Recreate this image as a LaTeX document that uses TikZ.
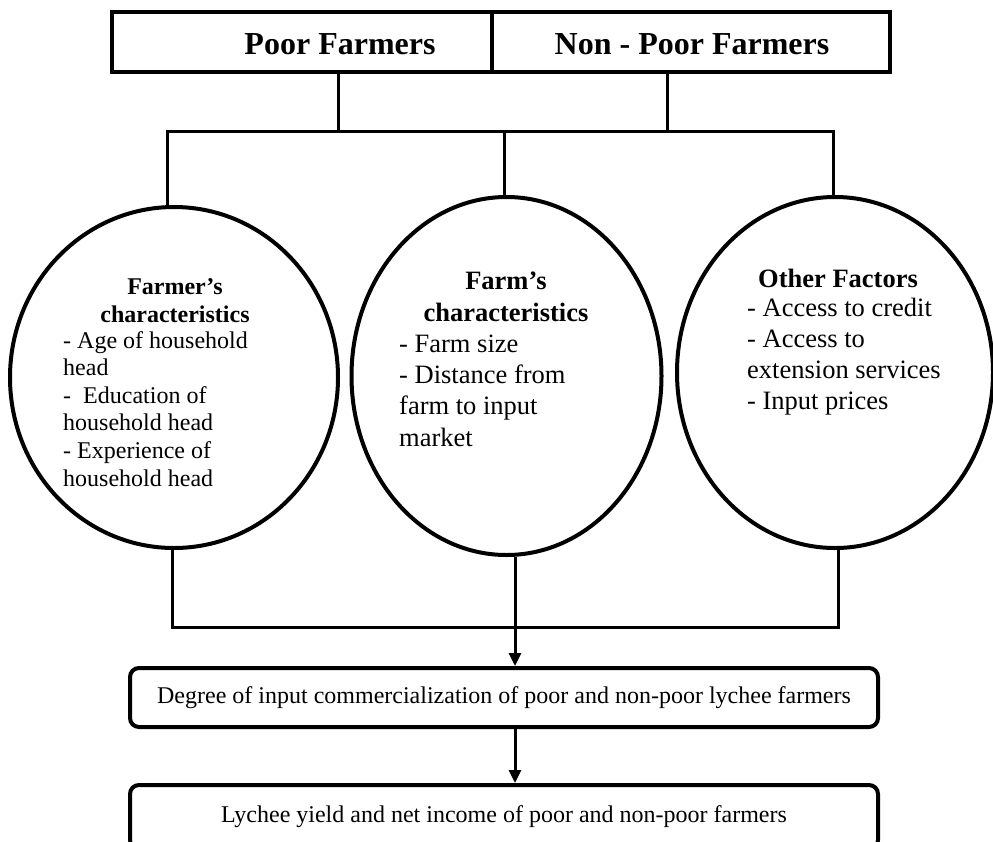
\documentclass[tikz,border=0pt]{standalone}
\usepackage{fontspec}
\setmainfont{Liberation Serif}
\usetikzlibrary{arrows.meta,shapes.geometric}
\begin{document}
\begin{tikzpicture}[x=1pt,y=-1pt,
  frame/.style={draw,line width=4pt,inner sep=0pt,outer sep=0pt},
  oval/.style={draw,ellipse,line width=4pt,inner sep=0pt},
  outbox/.style={draw,line width=4pt,rounded corners=9pt,inner sep=0pt,minimum width=748pt},
  conn/.style={line width=3pt},
  arr/.style={line width=3pt,-{Triangle[length=13pt,width=12pt]}},
  big/.style={font=\fontsize{32}{36}\selectfont\bfseries,inner sep=0pt},
  txta/.style={font=\fontsize{24}{27.6}\selectfont,inner sep=0pt},
  txtb/.style={font=\fontsize{26.5}{31.3}\selectfont,inner sep=0pt},
  txtc/.style={font=\fontsize{26.5}{30.7}\selectfont,inner sep=0pt},
]
\useasboundingbox (0,0) rectangle (993,841);
\clip (0,0) rectangle (993,841);

% top boxes
\node[frame,minimum width=380pt,minimum height=60pt] (pfbox) at (302,42) {};
\node[frame,minimum width=398pt,minimum height=60pt] (npfbox) at (691,42) {};
\node[big,anchor=base] (pft) at (340,54) {Poor Farmers};
\node[big,anchor=base] (npft) at (692,54) {Non - Poor Farmers};

% ellipses
\node[oval,minimum width=328pt,minimum height=341pt] (left) at (174,377.5) {};
\node[oval,minimum width=310pt,minimum height=358pt] (mid) at (506.5,376) {};
\node[oval,minimum width=316pt,minimum height=351pt] (right) at (835,372.5) {};

% ellipse texts (base anchor = baseline of the last line)
\node[txta,anchor=base,align=center,font=\fontsize{24}{27.6}\selectfont\bfseries] (lh) at (175,322) {Farmer’s\\characteristics};
\node[txta,anchor=base west,align=left] (ll) at (63,486) {- Age of household\\head\\-\ \ Education of\\household head\\- Experience of\\household head};

\node[txtb,anchor=base,align=center,font=\fontsize{26.5}{31.3}\selectfont\bfseries] (mh) at (506,321) {Farm’s\\characteristics};
\node[txtb,anchor=base west,align=left] (ml) at (399,446) {- Farm size\\- Distance from\\farm to input\\market};

\node[txtc,anchor=base,font=\fontsize{26.5}{30.7}\selectfont\bfseries] (rh) at (838,287) {Other Factors};
\node[txtc,anchor=base west,align=left] (rl) at (747,409) {- Access to credit\\- Access to\\extension services\\- Input prices};

% bottom boxes
\node[outbox,minimum height=59pt,font=\fontsize{24}{27.6}\selectfont] (box1) at (504,697.5) {Degree of input commercialization of poor and non-poor lychee farmers};
\node[outbox,minimum height=64pt,font=\fontsize{24}{27.6}\selectfont] (box2) at (504,817) {Lychee yield and net income of poor and non-poor farmers};

% connectors top
\coordinate (t1) at (338,131);
\coordinate (t2) at (667,131);
\coordinate (hl) at (167,131);
\coordinate (hm) at (504,131);
\coordinate (hr) at (833,131);
\draw[conn] (t1 |- pfbox.south) -- (t1);
\draw[conn] (t2 |- npfbox.south) -- (t2);
\draw[conn] (hl |- left.north) -- (hl) -- (hr) -- (hr |- right.north);
\draw[conn] (hm) -- (hm |- mid.north);

% connectors bottom
\coordinate (bl) at (172,627);
\coordinate (br) at (838,627);
\coordinate (ma) at (515,627);
\draw[conn] (bl |- left.south) -- (bl) -- (br) -- (br |- right.south);
\draw[arr] (ma |- mid.south) -- (ma |- box1.north);
\draw[arr] (ma |- box1.south) -- (ma |- box2.north);
\end{tikzpicture}
\end{document}
